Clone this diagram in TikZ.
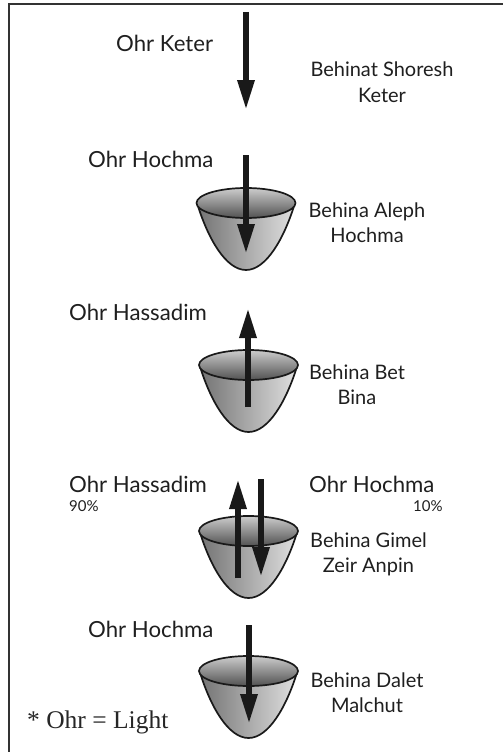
\documentclass[tikz,border=0pt]{standalone}
\usepackage{fontspec}
\setmainfont{Lato}
\newfontfamily\notefont{Liberation Serif}
\usetikzlibrary{arrows.meta}
\tikzset{
  bigtxt/.style={inner sep=0pt,anchor=base west,text=black!88,font=\fontsize{22.2}{26}\selectfont},
  midtxt/.style={inner sep=0pt,anchor=base,text=black!88,align=center,font=\fontsize{20}{25.5}\selectfont},
  smalltxt/.style={inner sep=0pt,anchor=base west,text=black!88,font=\fontsize{15}{17}\selectfont},
  lightray/.style={line width=6pt,draw=black!90,-{Triangle[length=30pt,width=16pt]}},
  cupline/.style={draw=black!90,line width=1.7pt,line join=round}
}
\newcommand{\cupat}[2]{%
  \begin{scope}[shift={(#1,#2)}]
    \path[cupline,left color=black!55,right color=black!12]
      (-49,0) .. controls (-38,36) and (-20,67) .. (0,67)
      .. controls (20,67) and (38,36) .. (49,0) -- cycle;
    \path[cupline,top color=black!20,bottom color=black!68]
      (0,0) ellipse [x radius=49.5pt,y radius=15pt];
  \end{scope}}
\begin{document}
\begin{tikzpicture}[x=1pt,y=-1pt]
\useasboundingbox (0,0) rectangle (503,752);
\draw[draw=black!80,line width=2pt] (9,752) -- (9,4) -- (503,4);

\cupat{246}{203}
\cupat{248.5}{365}
\cupat{248.5}{531}
\cupat{248.5}{671}

\coordinate (k1) at (246,12);   \coordinate (k2) at (246,110);
\coordinate (h1) at (246,155);  \coordinate (h2) at (246,254);
\coordinate (b1) at (248,407);  \coordinate (b2) at (248,308);
\coordinate (g1) at (238,578);  \coordinate (g2) at (238,479);
\coordinate (z1) at (261,479);  \coordinate (z2) at (261,577);
\coordinate (d1) at (249,625);  \coordinate (d2) at (249,724);
\draw[lightray] (k1) -- (k2);
\draw[lightray] (h1) -- (h2);
\draw[lightray] (b1) -- (b2);
\draw[lightray] (g1) -- (g2);
\draw[lightray] (z1) -- (z2);
\draw[lightray] (d1) -- (d2);

\node[bigtxt] (t1) at (116,52) {Ohr Keter};
\node[bigtxt] (t2) at (88,167) {Ohr Hochma};
\node[bigtxt] (t3) at (69,320) {Ohr Hassadim};
\node[bigtxt] (t4) at (69,492) {Ohr Hassadim};
\node[bigtxt] (t5) at (309,492) {Ohr Hochma};
\node[bigtxt] (t6) at (88,637) {Ohr Hochma};
\node[smalltxt] (p1) at (69,511) {90\%};
\node[smalltxt] (p2) at (413,511) {10\%};

\node[midtxt] (l1) at (382,102.5) {Behinat Shoresh\\Keter};
\node[midtxt] (l2) at (367,242.5) {Behina Aleph\\Hochma};
\node[midtxt] (l3) at (357,404.5) {Behina Bet\\Bina};
\node[midtxt] (l4) at (368.5,572.5) {Behina Gimel\\Zeir Anpin};
\node[midtxt] (l5) at (367,712.5) {Behina Dalet\\Malchut};
\node[inner sep=0pt,anchor=base west,text=black!85,font=\notefont\fontsize{25.5}{30}\selectfont] (n) at (27,728) {* Ohr = Light};
\end{tikzpicture}
\end{document}
